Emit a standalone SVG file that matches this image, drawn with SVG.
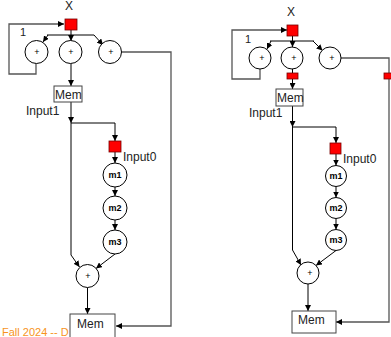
<svg xmlns="http://www.w3.org/2000/svg" width="391" height="337" viewBox="0 0 391 337">
<defs>
<marker id="ah" viewBox="0 0 6 6" refX="6" refY="3" markerWidth="6" markerHeight="6" markerUnits="userSpaceOnUse" orient="auto"><path d="M0,0 L6,3 L0,6 z" fill="#000"/></marker>
</defs>
<style>
.ln{fill:none;stroke:#000;stroke-width:1}
.gl{fill:none;stroke:#555;stroke-width:1.3}
.c{fill:#fff;stroke:#000;stroke-width:1}
.r{fill:#f00;stroke:#700;stroke-width:0.8}
.bg{fill:#fff;stroke:#444;stroke-width:1}
.t{font-family:"Liberation Sans",Arial,sans-serif;font-size:12px;fill:#222}
.p{font-family:"Liberation Sans",Arial,sans-serif;font-size:9px;fill:#000;text-anchor:middle}
.m{font-family:"Liberation Sans",Arial,sans-serif;font-size:9px;font-weight:bold;fill:#000;text-anchor:middle}
.f{font-family:"Liberation Sans",Arial,sans-serif;font-size:11px;fill:#f7941d}
</style>
<rect width="391" height="337" fill="#fff"/>
<text class="f" x="2" y="336">Fall 2024 -- D</text>
<g id="connectors">
<polyline class="gl" points="36,63.5 36,74 9,74 9,24 64,24" marker-end="url(#ah)"/>
<line class="ln" x1="71" y1="30" x2="71" y2="41" marker-end="url(#ah)"/>
<line class="ln" x1="47" y1="35" x2="94" y2="35"/>
<line class="ln" x1="48" y1="35" x2="43" y2="42" marker-end="url(#ah)"/>
<line class="ln" x1="94" y1="35" x2="103" y2="45" marker-end="url(#ah)"/>
<line class="ln" x1="71" y1="63.5" x2="71" y2="86" marker-end="url(#ah)"/>
<line class="ln" x1="71" y1="102" x2="71" y2="123" marker-end="url(#ah)"/>
<polyline class="ln" points="71,123 71,255 79.5,267" marker-end="url(#ah)"/>
<polyline class="ln" points="71,123 115,123 115,141" marker-end="url(#ah)"/>
<line class="ln" x1="115" y1="152" x2="115" y2="163" marker-end="url(#ah)"/>
<line class="ln" x1="115" y1="187" x2="115" y2="196" marker-end="url(#ah)"/>
<line class="ln" x1="115" y1="220" x2="115" y2="230" marker-end="url(#ah)"/>
<line class="ln" x1="115" y1="254" x2="96" y2="268.5" marker-end="url(#ah)"/>
<line class="ln" x1="87.5" y1="287.5" x2="87.5" y2="314" marker-end="url(#ah)"/>
<polyline class="gl" points="121.5,52 171,52 171,326 116,326" marker-end="url(#ah)"/>
<polyline class="gl" points="260,69 260,79 232,79 232,30 287,30" marker-end="url(#ah)"/>
<line class="ln" x1="292.5" y1="36" x2="292.5" y2="47" marker-end="url(#ah)"/>
<line class="ln" x1="270" y1="41" x2="314" y2="41"/>
<line class="ln" x1="271" y1="41" x2="267" y2="49" marker-end="url(#ah)"/>
<line class="ln" x1="313" y1="41" x2="322.5" y2="50.5" marker-end="url(#ah)"/>
<line class="ln" x1="292.5" y1="69" x2="292.5" y2="73"/>
<line class="ln" x1="292.5" y1="79" x2="292.5" y2="89" marker-end="url(#ah)"/>
<polyline class="gl" points="341,58 389,58 389,322 336,322" marker-end="url(#ah)"/>
<line class="ln" x1="292.5" y1="106" x2="292.5" y2="127" marker-end="url(#ah)"/>
<polyline class="ln" points="292.5,127 292.5,250 301,265" marker-end="url(#ah)"/>
<polyline class="ln" points="292.5,127 336,127 336,143" marker-end="url(#ah)"/>
<line class="ln" x1="336" y1="154" x2="336" y2="165.5" marker-end="url(#ah)"/>
<line class="ln" x1="336" y1="186.5" x2="336" y2="197.5" marker-end="url(#ah)"/>
<line class="ln" x1="336" y1="218.5" x2="336" y2="229.5" marker-end="url(#ah)"/>
<line class="ln" x1="336" y1="250.5" x2="316" y2="265.5" marker-end="url(#ah)"/>
<line class="ln" x1="308" y1="284" x2="308" y2="311" marker-end="url(#ah)"/>
</g>
<g id="L-X"><text class="t" x="69" y="10" text-anchor="middle">X</text><rect class="r" x="65" y="19" width="12" height="11"/></g>
<g id="L-one"><text class="t" x="20" y="36" style="font-size:11px">1</text></g>
<g id="L-add1"><circle class="c" cx="36.5" cy="52" r="11.5"/><text class="p" x="37" y="55">+</text></g>
<g id="L-add2"><circle class="c" cx="70.5" cy="52" r="11.5"/><text class="p" x="71" y="55">+</text></g>
<g id="L-add3"><circle class="c" cx="110" cy="52" r="11.5"/><text class="p" x="111" y="55">+</text></g>
<g id="L-mem1"><rect class="bg" x="54" y="86" width="28" height="16"/><text class="t" x="55" y="99">Mem</text></g>
<g id="L-input1"><text class="t" x="26" y="115">Input1</text></g>
<g id="L-in0"><rect class="r" x="109" y="141" width="12" height="11"/><text class="t" x="123" y="161">Input0</text></g>
<g id="L-m1"><circle class="c" cx="115" cy="175" r="12"/><text class="m" x="115" y="178">m1</text></g>
<g id="L-m2"><circle class="c" cx="115" cy="208" r="12"/><text class="m" x="115" y="211">m2</text></g>
<g id="L-m3"><circle class="c" cx="115" cy="242" r="12"/><text class="m" x="115" y="245">m3</text></g>
<g id="L-sum"><circle class="c" cx="87.5" cy="276" r="11.5"/><text class="p" x="88" y="279">+</text></g>
<g id="L-mem2"><rect class="bg" x="70" y="314" width="45" height="30"/><text class="t" x="77" y="328">Mem</text></g>
<g id="R-X"><text class="t" x="291" y="16" text-anchor="middle">X</text><rect class="r" x="287" y="25" width="11" height="11"/></g>
<g id="R-one"><text class="t" x="245" y="43" style="font-size:11px">1</text></g>
<g id="R-add1"><circle class="c" cx="260" cy="58" r="11"/><text class="p" x="262" y="61">+</text></g>
<g id="R-add2"><circle class="c" cx="292" cy="58" r="11"/><text class="p" x="294" y="61">+</text></g>
<g id="R-add3"><circle class="c" cx="330" cy="58" r="11"/><text class="p" x="332" y="61">+</text></g>
<g id="R-reg1"><rect class="r" x="287" y="73" width="11" height="6"/></g>
<g id="R-reg2"><rect class="r" x="384" y="73" width="11" height="6"/></g>
<g id="R-mem1"><rect class="bg" x="276" y="89" width="27" height="17"/><text class="t" x="277" y="102">Mem</text></g>
<g id="R-input1"><text class="t" x="249" y="117">Input1</text></g>
<g id="R-in0"><rect class="r" x="330" y="143" width="11" height="11"/><text class="t" x="343" y="163">Input0</text></g>
<g id="R-m1"><circle class="c" cx="336" cy="176" r="10.5"/><text class="m" x="336" y="179">m1</text></g>
<g id="R-m2"><circle class="c" cx="336" cy="208" r="10.5"/><text class="m" x="336" y="211">m2</text></g>
<g id="R-m3"><circle class="c" cx="336" cy="240" r="10.5"/><text class="m" x="336" y="243">m3</text></g>
<g id="R-sum"><circle class="c" cx="308" cy="273" r="11"/><text class="p" x="310" y="276">+</text></g>
<g id="R-mem2"><rect class="bg" x="292" y="311" width="44" height="22"/><text class="t" x="298" y="324">Mem</text></g>
</svg>
